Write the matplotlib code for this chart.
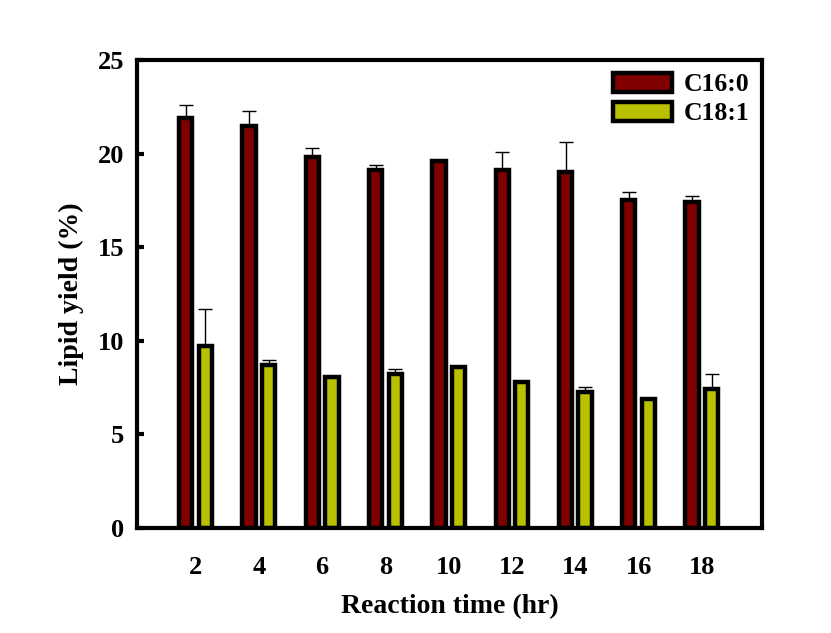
import matplotlib.pyplot as plt
import numpy as np

plt.rcParams['font.family'] = ['Liberation Serif', 'DejaVu Serif']
plt.rcParams['font.weight'] = 'bold'

# data
times = [2, 4, 6, 8, 10, 12, 14, 16, 18]
c16 = [21.9, 21.5, 19.8, 19.1, 19.6, 19.1, 19.0, 17.5, 17.4]
c16_err = [0.7, 0.8, 0.5, 0.3, 0.0, 1.0, 1.6, 0.45, 0.35]
c18 = [9.7, 8.7, 8.05, 8.2, 8.6, 7.8, 7.25, 6.9, 7.45]
c18_err = [2.0, 0.25, 0.0, 0.3, 0.0, 0.0, 0.3, 0.0, 0.8]

fig = plt.figure(figsize=(8.31, 6.33), dpi=100)
ax = fig.add_axes([0.1649, 0.1659, 0.7521, 0.7393])

x = np.array(times, dtype=float)
w = 0.42
off = 0.31
err_kw = dict(elinewidth=1.0, capsize=5, capthick=1.0, ecolor='black')

ax.bar(x - off, c16, width=w, color='#800000', edgecolor='black', linewidth=3.2,
       yerr=[np.zeros(len(c16)), c16_err], error_kw=err_kw, label='C16:0', zorder=2)
ax.bar(x + off, c18, width=w, color='#b8c000', edgecolor='black', linewidth=3.2,
       yerr=[np.zeros(len(c18)), c18_err], error_kw=err_kw, label='C18:1', zorder=2)

ax.set_xlim(0.15, 19.9)
ax.set_ylim(0, 25)
ax.set_xticks(times)
ax.set_yticks([0, 5, 10, 15, 20, 25])
ax.tick_params(axis='x', length=0, pad=20, labelsize=19)
ax.tick_params(axis='y', direction='in', length=5, width=3, pad=9, labelsize=19)
for s in ax.spines.values():
    s.set_linewidth(3)

ax.set_xlabel('Reaction time (hr)', fontsize=20, fontweight='bold', labelpad=11)
ax.set_ylabel('Lipid yield (%)', fontsize=20, fontweight='bold', labelpad=10)

leg = ax.legend(loc='upper right', frameon=False, fontsize=18.5, handlelength=2.3,
                handleheight=0.75, handletextpad=0.45, labelspacing=0.22,
                borderaxespad=0.1)

plt.savefig('out.png', dpi=100)
